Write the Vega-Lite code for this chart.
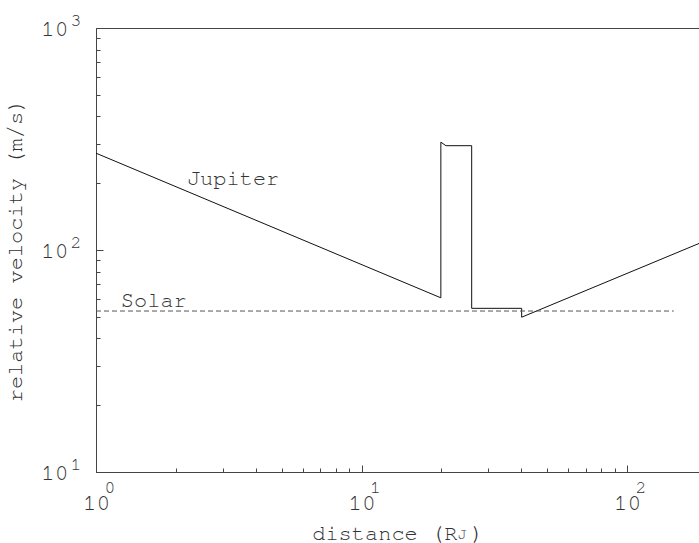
{
  "$schema": "https://vega.github.io/schema/vega-lite/v6.json",
  "width": 603,
  "height": 444,
  "autosize": {"type": "none"},
  "padding": {"left": 96, "top": 28, "right": 0, "bottom": 71},
  "background": "white",
  "config": {
    "view": {"stroke": "#444", "strokeWidth": 1},
    "font": "Nimbus Mono PS, Nimbus Mono L, FreeMono, Courier New, Liberation Mono",
    "axis": {"domainColor": "#444", "tickColor": "#444", "labelColor": "#333", "titleColor": "#333", "labelFont": "Nimbus Mono PS, Nimbus Mono L, FreeMono, Courier New, Liberation Mono", "titleFont": "Nimbus Mono PS, Nimbus Mono L, FreeMono, Courier New, Liberation Mono", "grid": false, "labelFontWeight": "normal", "titleFontWeight": "normal"}
  },
  "datasets": {
    "jupiter": [
      {"order": 1, "distance": 1, "velocity": 273},
      {"order": 2, "distance": 19.9, "velocity": 60.9},
      {"order": 3, "distance": 19.9, "velocity": 306},
      {"order": 4, "distance": 20.8, "velocity": 295},
      {"order": 5, "distance": 26.0, "velocity": 295},
      {"order": 6, "distance": 26.0, "velocity": 54.6},
      {"order": 7, "distance": 40.1, "velocity": 54.6},
      {"order": 8, "distance": 40.1, "velocity": 49.8},
      {"order": 9, "distance": 186.7, "velocity": 107}
    ],
    "solar": [
      {"distance": 1, "velocity": 53.1},
      {"distance": 150, "velocity": 53.1}
    ],
    "labels": [
      {"distance": 2.2, "velocity": 196, "label": "Jupiter"},
      {"distance": 1.24, "velocity": 55.6, "label": "Solar"}
    ],
    "xexp": [
      {"distance": 1, "velocity": 10, "e": "0"},
      {"distance": 10, "velocity": 10, "e": "1"},
      {"distance": 100, "velocity": 10, "e": "2"}
    ],
    "yexp": [
      {"distance": 1, "velocity": 10, "e": "1"},
      {"distance": 1, "velocity": 100, "e": "2"},
      {"distance": 1, "velocity": 1000, "e": "3"}
    ],
    "sub": [
      {"distance": 23.9, "velocity": 10, "s": "J"}
    ]
  },
  "resolve": {"axis": {"x": "independent", "y": "independent"}},
  "layer": [
    {
      "data": {"name": "jupiter"},
      "mark": {"type": "line", "color": "#111", "strokeWidth": 1},
      "encoding": {
        "x": {"field": "distance", "type": "quantitative", "scale": {"type": "log", "domain": [1, 186.7], "nice": false},
          "axis": {"orient": "bottom", "values": [1, 10, 100], "ticks": false, "labelExpr": "'10'", "labelFontSize": 23, "labelPadding": 19, "labelDx": -6, "labelFlush": false, "labelOverlap": false, "title": "distance (R )", "titleFontSize": 22, "titlePadding": 8, "domainColor": "#444"}},
        "y": {"field": "velocity", "type": "quantitative", "scale": {"type": "log", "domain": [10, 1000], "nice": false},
          "axis": {"orient": "left", "values": [10, 100, 1000], "ticks": false, "labelExpr": "'10'", "labelFontSize": 23, "labelPadding": 28, "labelDy": 4, "labelFlush": false, "labelOverlap": false, "title": "relative velocity (m/s)", "titleFontSize": 22, "titlePadding": 14}},
        "order": {"field": "order", "type": "quantitative"}
      }
    },
    {
      "data": {"name": "solar"},
      "mark": {"type": "line", "color": "#555", "strokeWidth": 1, "strokeDash": [5, 3]},
      "encoding": {
        "x": {"field": "distance", "type": "quantitative", "axis": {"orient": "bottom", "values": [1, 10, 100], "tickSize": -7, "labels": false, "domain": false, "title": null}},
        "y": {"field": "velocity", "type": "quantitative", "axis": {"orient": "left", "values": [10, 100, 1000], "tickSize": -7, "labels": false, "domain": false, "title": null}}
      }
    },
    {
      "data": {"name": "labels"},
      "mark": {"type": "text", "align": "left", "baseline": "alphabetic", "fontSize": 22, "color": "#333", "font": "Nimbus Mono PS, Nimbus Mono L, FreeMono, Courier New, Liberation Mono"},
      "encoding": {
        "x": {"field": "distance", "type": "quantitative", "axis": {"orient": "bottom", "values": [2, 3, 4, 5, 6, 7, 8, 9, 20, 30, 40, 50, 60, 70, 80, 90], "tickSize": -4, "labels": false, "domain": false, "title": null}},
        "y": {"field": "velocity", "type": "quantitative", "axis": {"orient": "left", "values": [20, 30, 40, 50, 60, 70, 80, 90, 200, 300, 400, 500, 600, 700, 800, 900], "tickSize": -4, "labels": false, "domain": false, "title": null}},
        "text": {"field": "label"}
      }
    },
    {
      "data": {"name": "xexp"},
      "mark": {"type": "text", "align": "center", "baseline": "middle", "fontSize": 18, "color": "#333", "font": "Nimbus Mono PS, Nimbus Mono L, FreeMono, Courier New, Liberation Mono", "dx": 14, "dy": 16},
      "encoding": {
        "x": {"field": "distance", "type": "quantitative", "axis": null},
        "y": {"field": "velocity", "type": "quantitative", "axis": null},
        "text": {"field": "e"}
      }
    },
    {
      "data": {"name": "yexp"},
      "mark": {"type": "text", "align": "center", "baseline": "middle", "fontSize": 18, "color": "#333", "font": "Nimbus Mono PS, Nimbus Mono L, FreeMono, Courier New, Liberation Mono", "dx": -20, "dy": -7},
      "encoding": {
        "x": {"field": "distance", "type": "quantitative", "axis": null},
        "y": {"field": "velocity", "type": "quantitative", "axis": null},
        "text": {"field": "e"}
      }
    },
    {
      "data": {"name": "sub"},
      "mark": {"type": "text", "align": "center", "baseline": "middle", "fontSize": 15, "color": "#333", "font": "Nimbus Mono PS, Nimbus Mono L, FreeMono, Courier New, Liberation Mono", "dx": 0, "dy": 62},
      "encoding": {
        "x": {"field": "distance", "type": "quantitative", "axis": null},
        "y": {"field": "velocity", "type": "quantitative", "axis": null},
        "text": {"field": "s"}
      }
    }
  ]
}
